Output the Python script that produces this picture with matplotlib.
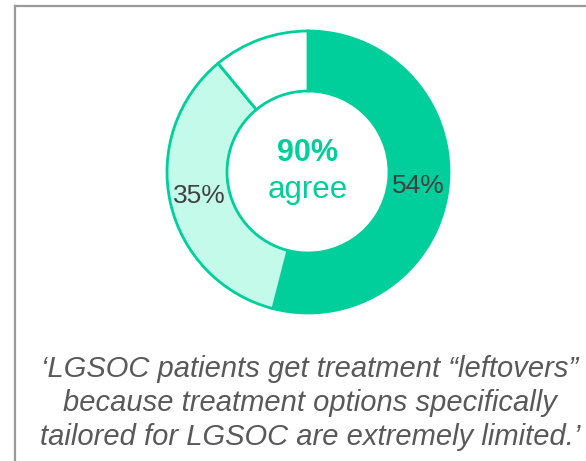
import matplotlib
matplotlib.use("Agg")
import matplotlib.pyplot as plt
from matplotlib.lines import Line2D

plt.rcParams['font.family'] = ['Liberation Sans', 'DejaVu Sans']

# Data
segments = ['Strongly agree', 'Agree', 'Other']
values = [54, 35, 11]
value_labels = ['54%', '35%', '']
center_value = '90%'
center_label = 'agree'
quote = ("\u2018LGSOC patients get treatment \u201cleftovers\u201d\n"
         "because treatment options specifically\n"
         "tailored for LGSOC are extremely limited.\u2019")

colors = ['#00CF9B', '#C4FAEA', '#FFFFFF']
edge = '#00CF9B'

W, H = 586, 461
fig = plt.figure(figsize=(W / 100, H / 100), dpi=100)
ax = fig.add_axes([0, 0, 1, 1])


def Y(py):
    return H - py


cx, cy, R = 308, 172, 141
wedges, texts = ax.pie(values, colors=colors, labels=value_labels,
                       labeldistance=0.79, startangle=90, counterclock=False,
                       center=(cx, Y(cy)), radius=R, frame=True,
                       wedgeprops=dict(width=R - 81, edgecolor=edge, linewidth=2),
                       textprops=dict(fontsize=19, color='#404040',
                                      ha='center', va='center'))
ax.set_xlim(0, W)
ax.set_ylim(0, H)
ax.set_aspect('auto')
ax.axis('off')

ax.text(cx, Y(153), center_value, fontsize=22, fontweight='bold', color='#00CF9B',
        ha='center', va='center')
ax.text(cx, Y(190), center_label, fontsize=22.5, color='#00CF9B',
        ha='center', va='center')

ax.text(310, Y(403), quote, fontsize=21, style='italic', color='#595959',
        ha='center', va='center', linespacing=1.28)

# frame lines
ax.add_line(Line2D([14.5, 14.5], [0, Y(6.5)], color='#999999', lw=1.6))
ax.add_line(Line2D([14.5, W], [Y(6.5), Y(6.5)], color='#999999', lw=1.6))

fig.savefig('out.png', dpi=100)
